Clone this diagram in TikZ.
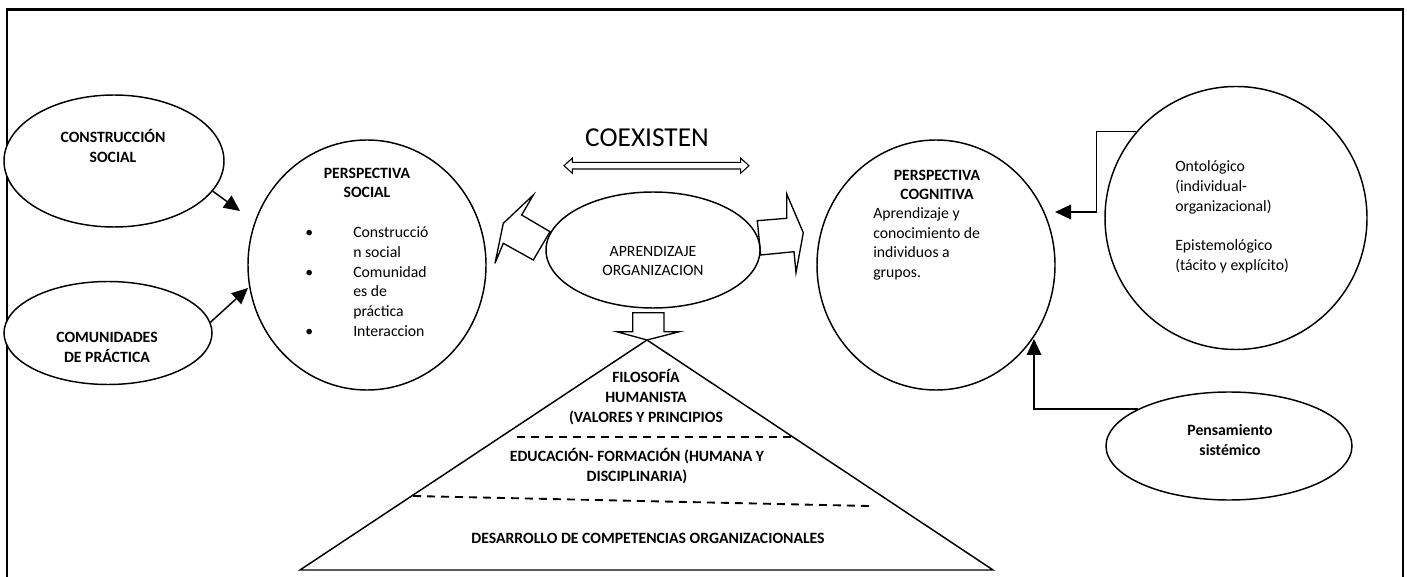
\documentclass[tikz,border=0pt]{standalone}
\usepackage{fontspec}
\setmainfont{Carlito}
\usetikzlibrary{shapes.geometric,arrows.meta}

\tikzset{
  oval/.style={draw, ellipse, line width=1.1pt, inner sep=0pt, fill=white},
  txt/.style={font=\fontsize{11.8}{14.8}\selectfont, align=center, inner sep=0pt},
  btxt/.style={txt, font=\fontsize{11.8}{14.8}\selectfont\bfseries},
  conn/.style={line width=1.1pt, -{Triangle[length=12pt,width=11pt]}},
  bigarrow/.style={draw, line width=1pt, fill=white, line join=miter},
  cut/.style={line width=1.4pt, dash pattern=on 6pt off 4.5pt}
}

\begin{document}
\begin{tikzpicture}[x=0.75pt,y=-0.75pt]

\useasboundingbox (0,0) rectangle (1407,577);
\draw [line width=2pt] (7,580) -- (7,9.5) -- (1403,9.5) -- (1403,580);

% block arrows round the centre
\draw [bigarrow] (503.3,223.3) -- (533.3,195) -- (521.7,215) -- (550,231.7) -- (533.3,260) -- (503.3,243.3) -- (495,263.3) -- cycle;
\draw [bigarrow] (757.3,220.7) -- (786.7,218.3) -- (786.7,194) -- (803.3,232.7) -- (796,272.7) -- (794,251.7) -- (760.7,255) -- cycle;
\draw [bigarrow] (632.7,312.7) -- (664,312.7) -- (664,331.7) -- (679.3,331.7) -- (647,340) -- (616.7,331.7) -- (632.7,331.7) -- cycle;
\draw [bigarrow, line width=0.8pt] (564,165.7) -- (572.3,158.2) -- (572.3,162.3) -- (740.7,162.3) -- (740.7,158.2) -- (749,165.7) -- (740.7,173.2) -- (740.7,169) -- (572.3,169) -- (572.3,173.2) -- cycle;

% ellipses
\node [oval, minimum width=165pt, minimum height=99pt] (cs) at (114,161) {};
\node [oval, minimum width=156pt, minimum height=77.25pt] (cp) at (108,333) {};
\node [oval, minimum width=178.5pt, minimum height=187.5pt] (psoc) at (367,265) {};
\node [oval, minimum width=160.5pt, minimum height=87pt] (apr) at (653,250) {};
\node [oval, minimum width=178.5pt, minimum height=187.5pt] (pcog) at (936,265) {};
\node [oval, minimum width=196.5pt, minimum height=197.25pt] (onto) at (1236,218) {};
\node [oval, minimum width=184.5pt, minimum height=81pt] (ps) at (1229,446) {};

% pyramid
\coordinate (top) at (647,340);
\coordinate (bl) at (300,570);
\coordinate (br) at (993,570);
\draw [line width=1.1pt] (bl) -- (top) -- (br) -- cycle;
\draw [cut] (517,437) -- (791,437);
\draw [cut] (413,496) -- (869,506);

% texts
\node [btxt] (t-cs) at (113,146) {CONSTRUCCIÓN\\SOCIAL};
\node [btxt] (t-cp) at (107,347.5) {COMUNIDADES\\DE PRÁCTICA};
\node [btxt] (t-psoc) at (367,183) {PERSPECTIVA\\SOCIAL};
\node [txt, anchor=west] (t-list) at (305,283) {\begin{tabular}{@{}p{36pt}@{}l@{}}
• & Construcció\\
  & n social\\
• & Comunidad\\
  & es de\\
  & práctica\\
• & Interaccion
\end{tabular}};
\node [txt] (t-apr) at (653,261) {APRENDIZAJE\\ORGANIZACION};
\node [txt, font=\fontsize{20.5}{24}\selectfont] (t-co) at (647,138) {COEXISTEN};
\node [btxt] (t-pcog) at (937,185) {PERSPECTIVA\\COGNITIVA};
\node [txt, anchor=west, align=left] (t-pcog2) at (873,244) {Aprendizaje y\\conocimiento de\\individuos a\\grupos.};
\node [txt, anchor=west, align=left] (t-onto) at (1175,217) {Ontológico\\(individual-\\organizacional)\\[14.8pt]Epistemológico\\(tácito y explícito)};
\node [btxt] (t-ps) at (1230,440) {Pensamiento\\sistémico};
\node [btxt] (t-fil) at (646,397) {FILOSOFÍA\\HUMANISTA\\(VALORES Y PRINCIPIOS};
\node [btxt] (t-edu) at (637,466) {EDUCACIÓN- FORMACIÓN (HUMANA Y\\DISCIPLINARIA)};
\node [btxt] (t-des) at (648,538) {DESARROLLO DE COMPETENCIAS ORGANIZACIONALES};

% connectors
\coordinate (csTip) at (240,211);
\coordinate (cpTip) at (248,288);
\coordinate (ontoTip) at (1055,212);
\coordinate (psTip) at (1034,339);
\draw [conn] (cs.-17) -- (csTip);
\draw [conn] (cp.6) -- (cpTip);
\draw [conn] (onto.139) -- ++(-40,0) |- (ontoTip);
\draw [conn] (ps.158) -| (psTip);

\end{tikzpicture}
\end{document}
